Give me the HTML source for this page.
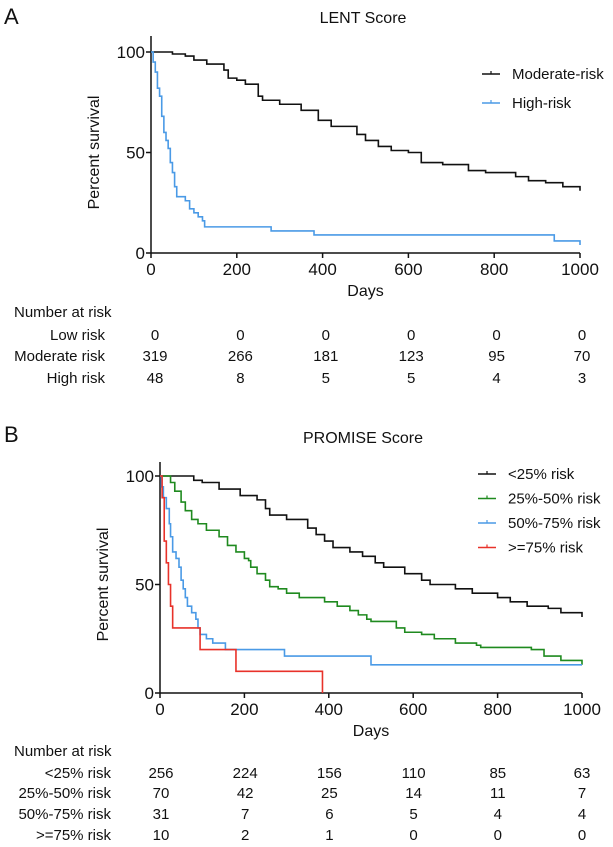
<!DOCTYPE html>
<html><head><meta charset="utf-8"><style>
body{margin:0;background:#fff;font-family:"Liberation Sans",Arial,sans-serif;}
svg text{font-family:"Liberation Sans",Arial,sans-serif;fill:#111;}
</style></head><body>
<svg id="c" width="613" height="842"></svg>
<script>
const ticksX=[0,200,400,600,800,1000];
const ticksY=[0,50,100];
const aModerate=[[0,100],[20,100],[50,99],[80,98],[100,96],[130,94],[170,91],[180,87],[200,86],[220,84],[250,78],[260,76],[300,74],[350,71],[390,66],[420,63],[480,59],[500,56],[530,53],[560,51],[600,50],[630,45],[680,44],[740,41],[780,40],[850,38],[880,36],[920,35],[960,33],[1000,31]];
const aHigh=[[0,100],[5,95],[10,90],[15,82],[20,78],[25,68],[30,60],[35,56],[40,52],[45,45],[50,40],[55,33],[60,28],[80,26],[90,22],[100,20],[110,18],[120,16],[125,13],[280,11],[380,9],[940,6],[1000,4]];
const bLow=[[0,100],[80,98],[100,97],[140,94],[190,91],[230,89],[250,85],[260,82],[300,80],[350,76],[370,73],[390,70],[410,67],[450,65],[480,63],[510,60],[530,58],[580,55],[620,52],[640,50],[700,48],[740,46],[800,44],[830,42],[870,40],[920,39],[950,37],[1000,35]];
const bMid=[[0,100],[15,100],[25,97],[35,93],[50,88],[60,84],[75,80],[90,78],[110,75],[140,72],[160,68],[180,65],[200,62],[210,61],[215,58],[230,55],[250,52],[260,49],[280,48],[300,46],[330,44],[390,42],[420,40],[450,38],[470,36],[490,34],[500,33],[560,30],[580,28],[620,27],[650,25],[700,23],[750,22],[760,21],[880,20],[910,17],[950,15],[1000,13]];
const bHigh=[[0,100],[3,95],[8,90],[15,85],[22,78],[25,72],[30,65],[38,62],[45,58],[50,52],[55,48],[60,44],[65,40],[75,37],[85,34],[90,30],[95,27],[110,25],[125,23],[155,20],[295,17],[500,13],[1000,13]];
const bVHigh=[[0,100],[5,90],[10,70],[15,60],[20,50],[25,40],[30,30],[95,20],[180,10],[385,0]];
const aRiskLabels=["Low risk","Moderate risk","High risk"];
const aRisk=[[0,0,0,0,0,0],[319,266,181,123,95,70],[48,8,5,5,4,3]];
const bRiskLabels=["<25% risk","25%-50% risk","50%-75% risk",">=75% risk"];
const bRisk=[[256,224,156,110,85,63],[70,42,25,14,11,7],[31,7,6,5,4,4],[10,2,1,0,0,0]];

const svg=document.getElementById('c');
const NS='http://www.w3.org/2000/svg';
function mk(tag,attrs,txt,parent){const e=document.createElementNS(NS,tag);for(const k in attrs)e.setAttribute(k,attrs[k]);if(txt!==undefined)e.textContent=txt;(parent||svg).appendChild(e);return e;}

function panel(p){
  const g=mk('g',{});
  
  
  const sx=v=>p.x0+(p.x1-p.x0)*v/1000, sy=v=>p.y0+(p.y1-p.y0)*v/100;
  const tx=c=>p.colA+(p.colB-p.colA)*c/5;
  let t=mk('text',{x:4,y:p.letterY,'font-size':22},p.letter,g);
  
  t=mk('text',{x:363,y:p.titleY,'font-size':16,'text-anchor':'middle'},p.title,g);
  
  let a=mk('line',{x1:p.x0,y1:p.axTop,x2:p.x0,y2:p.y0,stroke:'#111','stroke-width':1.5},undefined,g);
  
  a=mk('line',{x1:p.x0,y1:p.y0,x2:p.x1,y2:p.y0,stroke:'#111','stroke-width':1.5},undefined,g);
  
  ticksY.forEach(v=>{mk('line',{x1:p.x0-5,y1:sy(v),x2:p.x0,y2:sy(v),stroke:'#111','stroke-width':1.5},undefined,g);
    const l=mk('text',{x:p.x0-6,y:sy(v)+6,'font-size':17,'text-anchor':'end'},v,g);
    });
  ticksX.forEach(v=>{mk('line',{x1:sx(v),y1:p.y0,x2:sx(v),y2:p.y0+5,stroke:'#111','stroke-width':1.5},undefined,g);
    const l=mk('text',{x:sx(v),y:p.y0+22,'font-size':17,'text-anchor':'middle'},v,g);
    });
  t=mk('text',{x:(p.x0+p.x1)/2,y:p.y0+43,'font-size':16,'text-anchor':'middle'},'Days',g);
  
  const yc=(p.y0+p.y1)/2;
  t=mk('text',{x:p.x0-52,y:yc,'font-size':16,'text-anchor':'middle',transform:`rotate(-90 ${p.x0-52} ${yc})`},'Percent survival',g);
  
  p.series.forEach((s,i)=>{
    let d='M'+sx(s.d[0][0])+','+sy(s.d[0][1]);
    for(let k=1;k<s.d.length;k++){d+=' H'+sx(s.d[k][0])+' V'+sy(s.d[k][1]);}
    const path=mk('path',{d:d,fill:'none',stroke:s.c,'stroke-width':1.6},undefined,g);
    
    
    const ly=p.legY+i*p.legStep;
    const le=mk('g',{},undefined,g);
    
    
    mk('line',{x1:p.legX,y1:ly,x2:p.legX+18,y2:ly,stroke:s.c,'stroke-width':1.6},undefined,le);
    mk('line',{x1:p.legX+9,y1:ly-3,x2:p.legX+9,y2:ly,stroke:s.c,'stroke-width':1.2},undefined,le);
    mk('text',{x:p.legX+30,y:ly+5,'font-size':15},s.label,le);
  });
  t=mk('text',{x:14,y:p.tabY,'font-size':15},'Number at risk',g);
  
  p.riskLabels.forEach((lab,r)=>{
    const y=p.rowYs[r];
    const l=mk('text',{x:p.labX,y:y,'font-size':15,'text-anchor':'end'},lab,g);
    
    p.risk[r].forEach((v,c)=>{const n=mk('text',{x:tx(c),y:y,'font-size':15,'text-anchor':'middle'},v,g);
      });
  });
}
panel({name:'panel-a-lent',letter:'A',letterY:24,title:'LENT Score',titleY:23,x0:151,x1:580,y0:253,y1:52,axTop:36,
  series:[{key:'moderate',d:aModerate,c:'#111',label:'Moderate-risk'},{key:'high',d:aHigh,c:'#4a9ae6',label:'High-risk'}],
  legX:482,legY:74,legStep:29,tabY:317,rowYs:[340,361,383],labX:105,colA:155,colB:582,riskLabels:aRiskLabels,risk:aRisk});
panel({name:'panel-b-promise',letter:'B',letterY:442,title:'PROMISE Score',titleY:443,x0:160,x1:582,y0:693,y1:476,axTop:462,
  series:[{key:'lt25',d:bLow,c:'#111',label:'<25% risk'},{key:'25-50',d:bMid,c:'#1f8a1f',label:'25%-50% risk'},{key:'50-75',d:bHigh,c:'#4a9ae6',label:'50%-75% risk'},{key:'gte75',d:bVHigh,c:'#e8322a',label:'>=75% risk'}],
  legX:478,legY:474,legStep:24.5,tabY:756,rowYs:[778,798,819,840],labX:111,colA:161,colB:582,riskLabels:bRiskLabels,risk:bRisk});
</script>
</body></html>
